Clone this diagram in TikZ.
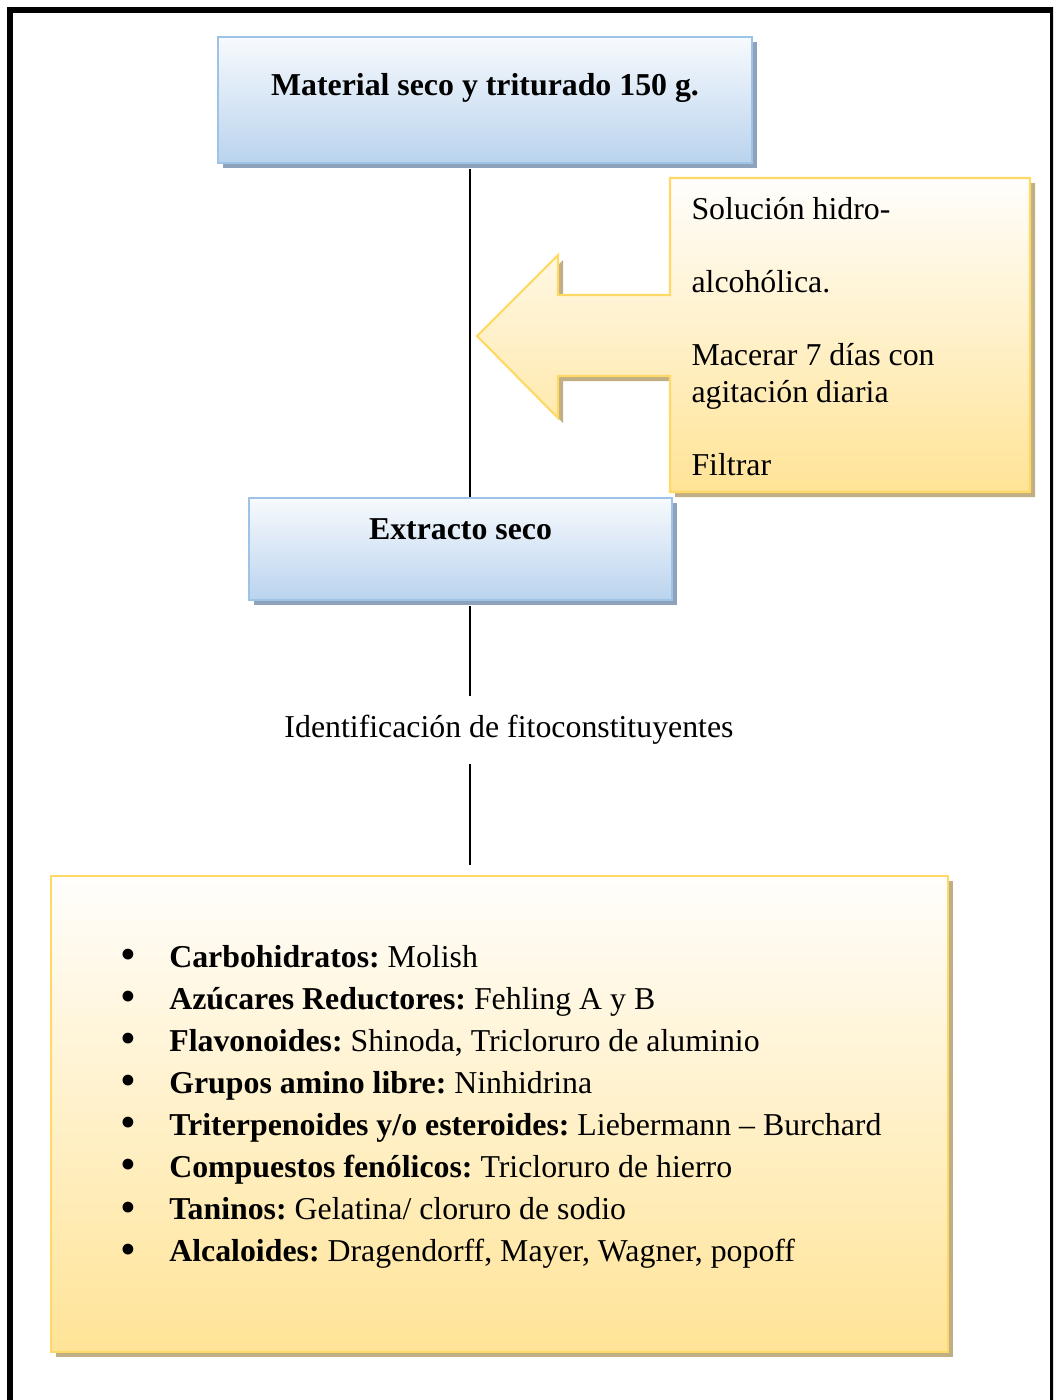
\documentclass[tikz,border=0pt]{standalone}
\usepackage{fontspec}
\setmainfont{Liberation Serif}
\usetikzlibrary{shadows}
\definecolor{bluetop}{HTML}{F7FAFD}
\definecolor{bluebot}{HTML}{BAD3EE}
\definecolor{blueline}{HTML}{9DC3E6}
\definecolor{blueshade}{HTML}{8EA2BC}
\definecolor{yeltop}{HTML}{FFFEFC}
\definecolor{yelbot}{HTML}{FFE396}
\definecolor{yelline}{HTML}{FFD966}
\definecolor{yelshade}{HTML}{C0AE84}
\frenchspacing
\newcommand{\bul}{\makebox[18.4pt][l]{\raisebox{-.8pt}{\fontsize{17}{14}\selectfont\textbullet}}}
\tikzset{
  bluebox/.style={draw=blueline, line width=.8pt, top color=bluetop, bottom color=bluebot,
    general shadow={fill=blueshade, shadow xshift=1.9pt, shadow yshift=-1.9pt},
    inner sep=0pt, align=center, font=\fontsize{12}{14}\selectfont\bfseries},
  yelbox/.style={draw=yelline, line width=.8pt, top color=yeltop, bottom color=yelbot,
    general shadow={fill=yelshade, shadow xshift=1.9pt, shadow yshift=-1.9pt}},
  link/.style={line width=.75pt},
  txt/.style={inner sep=0pt, align=left, font=\fontsize{12}{14}\selectfont}
}
\begin{document}
\begin{tikzpicture}[x=.377pt, y=-.377pt]
\useasboundingbox (0,0) rectangle (1053,1400);
\clip (0,0) rectangle (1053,1400);
\draw[line width=2.26pt] (10,1400)--(10,10)--(1053,10)--(1053,1400);
\coordinate (spine) at (470,0);
\node[bluebox, minimum width=201.3pt, text height=22.2pt, text depth=25.3pt] (mat) at (485,100) {Material seco y triturado 150 g.};
\node[bluebox, minimum width=159.5pt, text height=15.5pt, text depth=23pt] (ext) at (460.5,549) {Extracto seco};
\draw[yelbox] (670,178)--(1030,178)--(1030,492)--(670,492)--(670,376)--(558,376)--(558,418)
  --(477,336)--(558,255)--(558,295)--(670,295)--cycle;
\node[txt, anchor=north west] (sol) at (691,197) {Solución hidro-\\[13.5pt]alcohólica.\\[13.5pt]Macerar 7 días con\\agitación diaria\\[13.5pt]Filtrar};
\node[txt, align=center, minimum height=25.3pt] (ident) at (509,730) {Identificación de fitoconstituyentes};
\node[yelbox, minimum width=338.2pt, minimum height=179.5pt, inner sep=0pt] (tests) at (499.5,1114) {};
\node[txt, anchor=north west, font=\fontsize{12}{15.85}\selectfont] (list) at (120,945) {%
\bul\textbf{Carbohidratos:} Molish\\
\bul\textbf{Azúcares Reductores:} Fehling A y B\\
\bul\textbf{Flavonoides:} Shinoda, Tricloruro de aluminio\\
\bul\textbf{Grupos amino libre:} Ninhidrina\\
\bul\textbf{Triterpenoides y/o esteroides:} Liebermann – Burchard\\
\bul\textbf{Compuestos fenólicos:} Tricloruro de hierro\\
\bul\textbf{Taninos:} Gelatina/ cloruro de sodio\\
\bul\textbf{Alcaloides:} Dragendorff, Mayer, Wagner, popoff};
\draw[link] ([yshift=-1.9pt]mat.south -| spine)--(ext.north -| spine);
\draw[link] ([yshift=-1.9pt]ext.south -| spine)--(ident.north -| spine);
\draw[link] (ident.south -| spine)--([yshift=3.8pt]tests.north -| spine);
\end{tikzpicture}
\end{document}
